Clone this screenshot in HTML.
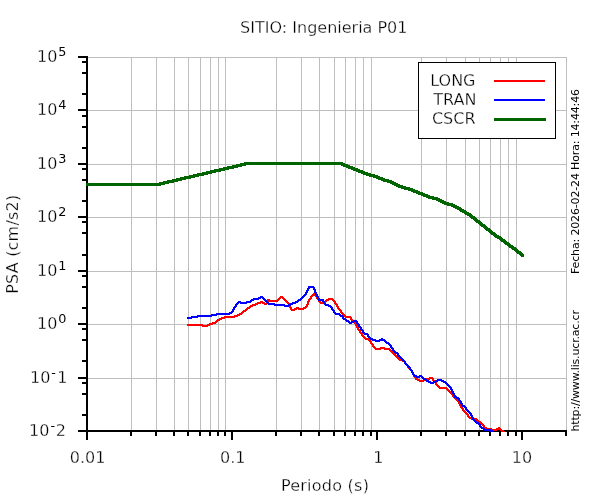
<!DOCTYPE html>
<html lang="es"><head><meta charset="utf-8"><title>SITIO: Ingenieria P01</title>
<style>html,body{margin:0;padding:0;background:#fff;}svg{display:block;}text{font-family:"DejaVu Sans","Liberation Sans",sans-serif;fill:#000;}.b text{stroke:#fff;stroke-width:0.3px;}</style></head><body>
<svg width="600" height="500" viewBox="0 0 600 500">
<rect width="600" height="500" fill="#fff"/>
<g stroke="#bebebe" stroke-width="1" shape-rendering="crispEdges" fill="none">
<line x1="87.0" y1="431.5" x2="566.5" y2="431.5"/>
<line x1="87.0" y1="378.5" x2="566.5" y2="378.5"/>
<line x1="87.0" y1="324.5" x2="566.5" y2="324.5"/>
<line x1="87.0" y1="271.5" x2="566.5" y2="271.5"/>
<line x1="87.0" y1="217.5" x2="566.5" y2="217.5"/>
<line x1="87.0" y1="164.5" x2="566.5" y2="164.5"/>
<line x1="87.0" y1="110.5" x2="566.5" y2="110.5"/>
<line x1="87.0" y1="57.5" x2="566.5" y2="57.5"/>
<line x1="131.5" y1="57.0" x2="131.5" y2="431.0"/>
<line x1="156.5" y1="57.0" x2="156.5" y2="431.0"/>
<line x1="174.5" y1="57.0" x2="174.5" y2="431.0"/>
<line x1="188.5" y1="57.0" x2="188.5" y2="431.0"/>
<line x1="200.5" y1="57.0" x2="200.5" y2="431.0"/>
<line x1="210.5" y1="57.0" x2="210.5" y2="431.0"/>
<line x1="218.5" y1="57.0" x2="218.5" y2="431.0"/>
<line x1="225.5" y1="57.0" x2="225.5" y2="431.0"/>
<line x1="276.5" y1="57.0" x2="276.5" y2="431.0"/>
<line x1="301.5" y1="57.0" x2="301.5" y2="431.0"/>
<line x1="319.5" y1="57.0" x2="319.5" y2="431.0"/>
<line x1="334.5" y1="57.0" x2="334.5" y2="431.0"/>
<line x1="345.5" y1="57.0" x2="345.5" y2="431.0"/>
<line x1="355.5" y1="57.0" x2="355.5" y2="431.0"/>
<line x1="363.5" y1="57.0" x2="363.5" y2="431.0"/>
<line x1="371.5" y1="57.0" x2="371.5" y2="431.0"/>
<line x1="421.5" y1="57.0" x2="421.5" y2="431.0"/>
<line x1="446.5" y1="57.0" x2="446.5" y2="431.0"/>
<line x1="465.5" y1="57.0" x2="465.5" y2="431.0"/>
<line x1="479.5" y1="57.0" x2="479.5" y2="431.0"/>
<line x1="490.5" y1="57.0" x2="490.5" y2="431.0"/>
<line x1="500.5" y1="57.0" x2="500.5" y2="431.0"/>
<line x1="508.5" y1="57.0" x2="508.5" y2="431.0"/>
<line x1="516.5" y1="57.0" x2="516.5" y2="431.0"/>
<line x1="566.5" y1="57.0" x2="566.5" y2="431.0"/>
<line x1="566.5" y1="57.0" x2="566.5" y2="431.0"/>
</g>
<g stroke="#000" stroke-width="2" shape-rendering="crispEdges" fill="none">
<line x1="87" y1="56" x2="87" y2="432"/>
<line x1="86" y1="431" x2="567" y2="431"/>
<line x1="78" y1="431" x2="87" y2="431"/>
<line x1="82" y1="415" x2="87" y2="415"/>
<line x1="82" y1="394" x2="87" y2="394"/>
<line x1="82" y1="383" x2="87" y2="383"/>
<line x1="78" y1="378" x2="87" y2="378"/>
<line x1="82" y1="361" x2="87" y2="361"/>
<line x1="82" y1="340" x2="87" y2="340"/>
<line x1="82" y1="329" x2="87" y2="329"/>
<line x1="78" y1="324" x2="87" y2="324"/>
<line x1="82" y1="308" x2="87" y2="308"/>
<line x1="82" y1="287" x2="87" y2="287"/>
<line x1="82" y1="276" x2="87" y2="276"/>
<line x1="78" y1="271" x2="87" y2="271"/>
<line x1="82" y1="255" x2="87" y2="255"/>
<line x1="82" y1="233" x2="87" y2="233"/>
<line x1="82" y1="222" x2="87" y2="222"/>
<line x1="78" y1="217" x2="87" y2="217"/>
<line x1="82" y1="201" x2="87" y2="201"/>
<line x1="82" y1="180" x2="87" y2="180"/>
<line x1="82" y1="169" x2="87" y2="169"/>
<line x1="78" y1="164" x2="87" y2="164"/>
<line x1="82" y1="148" x2="87" y2="148"/>
<line x1="82" y1="127" x2="87" y2="127"/>
<line x1="82" y1="116" x2="87" y2="116"/>
<line x1="78" y1="110" x2="87" y2="110"/>
<line x1="82" y1="94" x2="87" y2="94"/>
<line x1="82" y1="73" x2="87" y2="73"/>
<line x1="82" y1="62" x2="87" y2="62"/>
<line x1="78" y1="57" x2="87" y2="57"/>
<line x1="87" y1="431" x2="87" y2="440"/>
<line x1="232" y1="431" x2="232" y2="440"/>
<line x1="377" y1="431" x2="377" y2="440"/>
<line x1="522" y1="431" x2="522" y2="440"/>
<line x1="131" y1="431" x2="131" y2="436"/>
<line x1="156" y1="431" x2="156" y2="436"/>
<line x1="174" y1="431" x2="174" y2="436"/>
<line x1="188" y1="431" x2="188" y2="436"/>
<line x1="200" y1="431" x2="200" y2="436"/>
<line x1="210" y1="431" x2="210" y2="436"/>
<line x1="218" y1="431" x2="218" y2="436"/>
<line x1="225" y1="431" x2="225" y2="436"/>
<line x1="276" y1="431" x2="276" y2="436"/>
<line x1="301" y1="431" x2="301" y2="436"/>
<line x1="319" y1="431" x2="319" y2="436"/>
<line x1="334" y1="431" x2="334" y2="436"/>
<line x1="345" y1="431" x2="345" y2="436"/>
<line x1="355" y1="431" x2="355" y2="436"/>
<line x1="363" y1="431" x2="363" y2="436"/>
<line x1="371" y1="431" x2="371" y2="436"/>
<line x1="421" y1="431" x2="421" y2="436"/>
<line x1="446" y1="431" x2="446" y2="436"/>
<line x1="465" y1="431" x2="465" y2="436"/>
<line x1="479" y1="431" x2="479" y2="436"/>
<line x1="490" y1="431" x2="490" y2="436"/>
<line x1="500" y1="431" x2="500" y2="436"/>
<line x1="508" y1="431" x2="508" y2="436"/>
<line x1="516" y1="431" x2="516" y2="436"/>
<line x1="566" y1="431" x2="566" y2="436"/>
<line x1="566" y1="431" x2="566" y2="436"/>
</g>
<path d="M313 293h2v1h-2zM312 294h4v1h-4zM311 295h6v1h-6zM280 296h3v1h-3zM310 296h3v1h-3zM315 296h3v1h-3zM279 297h5v1h-5zM310 297h2v1h-2zM316 297h2v1h-2zM278 298h3v1h-3zM282 298h3v1h-3zM309 298h3v1h-3zM316 298h3v1h-3zM328 298h5v1h-5zM267 299h3v1h-3zM277 299h3v1h-3zM283 299h3v1h-3zM308 299h3v1h-3zM317 299h3v1h-3zM326 299h8v1h-8zM267 300h12v1h-12zM284 300h3v1h-3zM308 300h2v1h-2zM318 300h2v1h-2zM325 300h4v1h-4zM332 300h3v1h-3zM260 301h3v1h-3zM266 301h12v1h-12zM285 301h3v1h-3zM307 301h3v1h-3zM318 301h3v1h-3zM324 301h3v1h-3zM333 301h3v1h-3zM257 302h8v1h-8zM266 302h2v1h-2zM286 302h3v1h-3zM307 302h2v1h-2zM319 302h7v1h-7zM334 302h2v1h-2zM255 303h6v1h-6zM262 303h6v1h-6zM287 303h3v1h-3zM307 303h2v1h-2zM320 303h5v1h-5zM334 303h3v1h-3zM252 304h6v1h-6zM264 304h3v1h-3zM288 304h2v1h-2zM306 304h3v1h-3zM335 304h3v1h-3zM250 305h6v1h-6zM288 305h3v1h-3zM306 305h2v1h-2zM336 305h2v1h-2zM249 306h4v1h-4zM289 306h2v1h-2zM305 306h3v1h-3zM336 306h3v1h-3zM247 307h4v1h-4zM289 307h3v1h-3zM296 307h3v1h-3zM303 307h4v1h-4zM337 307h2v1h-2zM246 308h4v1h-4zM290 308h2v1h-2zM294 308h12v1h-12zM337 308h3v1h-3zM245 309h3v1h-3zM290 309h7v1h-7zM298 309h6v1h-6zM338 309h3v1h-3zM243 310h4v1h-4zM291 310h4v1h-4zM339 310h3v1h-3zM242 311h4v1h-4zM340 311h2v1h-2zM241 312h3v1h-3zM340 312h3v1h-3zM239 313h4v1h-4zM341 313h3v1h-3zM237 314h5v1h-5zM342 314h3v1h-3zM234 315h6v1h-6zM343 315h3v1h-3zM224 316h14v1h-14zM344 316h7v1h-7zM221 317h14v1h-14zM345 317h7v1h-7zM219 318h6v1h-6zM350 318h2v1h-2zM217 319h5v1h-5zM350 319h3v1h-3zM216 320h4v1h-4zM351 320h3v1h-3zM215 321h3v1h-3zM352 321h3v1h-3zM212 322h5v1h-5zM353 322h3v1h-3zM209 323h7v1h-7zM354 323h3v1h-3zM187 324h16v1h-16zM207 324h6v1h-6zM355 324h2v1h-2zM187 325h23v1h-23zM355 325h3v1h-3zM202 326h6v1h-6zM356 326h2v1h-2zM356 327h3v1h-3zM357 328h2v1h-2zM357 329h3v1h-3zM358 330h3v1h-3zM359 331h2v1h-2zM359 332h3v1h-3zM360 333h3v1h-3zM361 334h2v1h-2zM361 335h3v1h-3zM362 336h3v1h-3zM363 337h3v1h-3zM364 338h5v1h-5zM365 339h5v1h-5zM368 340h3v1h-3zM369 341h3v1h-3zM370 342h2v1h-2zM370 343h3v1h-3zM371 344h3v1h-3zM372 345h2v1h-2zM372 346h3v1h-3zM373 347h3v1h-3zM380 347h5v1h-5zM374 348h16v1h-16zM375 349h6v1h-6zM384 349h7v1h-7zM389 350h3v1h-3zM390 351h3v1h-3zM391 352h3v1h-3zM392 353h3v1h-3zM393 354h3v1h-3zM394 355h3v1h-3zM395 356h3v1h-3zM396 357h3v1h-3zM397 358h3v1h-3zM398 359h5v1h-5zM399 360h6v1h-6zM402 361h4v1h-4zM404 362h2v1h-2zM404 363h3v1h-3zM405 364h3v1h-3zM406 365h3v1h-3zM407 366h2v1h-2zM407 367h3v1h-3zM408 368h3v1h-3zM409 369h3v1h-3zM410 370h3v1h-3zM411 371h2v1h-2zM411 372h3v1h-3zM412 373h2v1h-2zM412 374h3v1h-3zM413 375h2v1h-2zM413 376h3v1h-3zM414 377h3v1h-3zM429 377h4v1h-4zM415 378h3v1h-3zM426 378h8v1h-8zM415 379h5v1h-5zM423 379h7v1h-7zM432 379h2v1h-2zM417 380h10v1h-10zM432 380h3v1h-3zM419 381h5v1h-5zM433 381h3v1h-3zM434 382h3v1h-3zM435 383h2v1h-2zM435 384h3v1h-3zM436 385h3v1h-3zM437 386h3v1h-3zM438 387h9v1h-9zM439 388h9v1h-9zM446 389h3v1h-3zM447 390h3v1h-3zM448 391h3v1h-3zM449 392h3v1h-3zM450 393h3v1h-3zM451 394h3v1h-3zM452 395h2v1h-2zM452 396h3v1h-3zM453 397h3v1h-3zM454 398h3v1h-3zM455 399h3v1h-3zM456 400h3v1h-3zM457 401h3v1h-3zM458 402h2v1h-2zM458 403h3v1h-3zM459 404h2v1h-2zM459 405h3v1h-3zM460 406h2v1h-2zM460 407h3v1h-3zM461 408h3v1h-3zM462 409h2v1h-2zM462 410h3v1h-3zM463 411h3v1h-3zM464 412h3v1h-3zM465 413h3v1h-3zM466 414h3v1h-3zM467 415h2v1h-2zM467 416h3v1h-3zM468 417h4v1h-4zM469 418h8v1h-8zM471 419h7v1h-7zM476 420h3v1h-3zM477 421h4v1h-4zM478 422h4v1h-4zM480 423h3v1h-3zM481 424h3v1h-3zM482 425h3v1h-3zM483 426h2v1h-2zM483 427h4v1h-4zM498 427h2v1h-2zM484 428h8v1h-8zM496 428h5v1h-5zM486 429h16v1h-16zM491 430h6v1h-6zM500 430h4v1h-4zM501 431h4v1h-4z" fill="#ff0000" shape-rendering="crispEdges"/>
<path d="M308 286h6v1h-6zM308 287h7v1h-7zM307 288h3v1h-3zM313 288h2v1h-2zM307 289h2v1h-2zM313 289h3v1h-3zM306 290h3v1h-3zM314 290h2v1h-2zM306 291h2v1h-2zM314 291h2v1h-2zM305 292h3v1h-3zM314 292h3v1h-3zM305 293h2v1h-2zM315 293h2v1h-2zM304 294h3v1h-3zM315 294h3v1h-3zM303 295h3v1h-3zM316 295h2v1h-2zM260 296h3v1h-3zM302 296h3v1h-3zM316 296h3v1h-3zM258 297h6v1h-6zM301 297h3v1h-3zM317 297h2v1h-2zM253 298h8v1h-8zM262 298h3v1h-3zM300 298h3v1h-3zM317 298h3v1h-3zM251 299h8v1h-8zM263 299h3v1h-3zM298 299h4v1h-4zM318 299h6v1h-6zM250 300h4v1h-4zM264 300h3v1h-3zM297 300h4v1h-4zM318 300h6v1h-6zM238 301h3v1h-3zM246 301h6v1h-6zM265 301h3v1h-3zM295 301h4v1h-4zM322 301h3v1h-3zM237 302h14v1h-14zM266 302h3v1h-3zM292 302h6v1h-6zM323 302h2v1h-2zM236 303h3v1h-3zM240 303h7v1h-7zM267 303h8v1h-8zM290 303h6v1h-6zM323 303h3v1h-3zM235 304h3v1h-3zM268 304h17v1h-17zM288 304h5v1h-5zM324 304h5v1h-5zM235 305h2v1h-2zM274 305h17v1h-17zM325 305h6v1h-6zM234 306h3v1h-3zM284 306h5v1h-5zM328 306h4v1h-4zM233 307h3v1h-3zM330 307h3v1h-3zM233 308h2v1h-2zM331 308h2v1h-2zM232 309h3v1h-3zM331 309h3v1h-3zM232 310h2v1h-2zM332 310h3v1h-3zM231 311h3v1h-3zM333 311h2v1h-2zM229 312h4v1h-4zM333 312h3v1h-3zM216 313h16v1h-16zM334 313h6v1h-6zM211 314h19v1h-19zM335 314h6v1h-6zM197 315h20v1h-20zM339 315h4v1h-4zM191 316h21v1h-21zM340 316h4v1h-4zM187 317h11v1h-11zM342 317h2v1h-2zM187 318h5v1h-5zM342 318h4v1h-4zM343 319h4v1h-4zM345 320h4v1h-4zM353 320h4v1h-4zM346 321h4v1h-4zM351 321h7v1h-7zM348 322h6v1h-6zM356 322h2v1h-2zM349 323h3v1h-3zM356 323h3v1h-3zM357 324h3v1h-3zM358 325h2v1h-2zM358 326h3v1h-3zM359 327h3v1h-3zM360 328h2v1h-2zM360 329h3v1h-3zM361 330h3v1h-3zM362 331h2v1h-2zM362 332h3v1h-3zM363 333h5v1h-5zM364 334h5v1h-5zM367 335h2v1h-2zM367 336h3v1h-3zM368 337h3v1h-3zM369 338h4v1h-4zM381 338h2v1h-2zM370 339h6v1h-6zM379 339h6v1h-6zM372 340h14v1h-14zM375 341h5v1h-5zM384 341h3v1h-3zM385 342h4v1h-4zM386 343h4v1h-4zM388 344h3v1h-3zM389 345h3v1h-3zM390 346h2v1h-2zM390 347h3v1h-3zM391 348h3v1h-3zM392 349h2v1h-2zM392 350h3v1h-3zM393 351h3v1h-3zM394 352h4v1h-4zM395 353h4v1h-4zM397 354h2v1h-2zM397 355h3v1h-3zM398 356h3v1h-3zM399 357h3v1h-3zM400 358h3v1h-3zM401 359h3v1h-3zM402 360h3v1h-3zM403 361h3v1h-3zM404 362h2v1h-2zM404 363h3v1h-3zM405 364h3v1h-3zM406 365h3v1h-3zM407 366h3v1h-3zM408 367h3v1h-3zM409 368h2v1h-2zM409 369h3v1h-3zM410 370h3v1h-3zM411 371h2v1h-2zM411 372h3v1h-3zM412 373h2v1h-2zM412 374h3v1h-3zM413 375h4v1h-4zM419 375h3v1h-3zM414 376h9v1h-9zM416 377h4v1h-4zM421 377h3v1h-3zM422 378h4v1h-4zM423 379h4v1h-4zM437 379h5v1h-5zM425 380h4v1h-4zM435 380h9v1h-9zM426 381h5v1h-5zM433 381h5v1h-5zM441 381h5v1h-5zM428 382h8v1h-8zM443 382h4v1h-4zM430 383h4v1h-4zM445 383h3v1h-3zM446 384h3v1h-3zM447 385h3v1h-3zM448 386h3v1h-3zM449 387h3v1h-3zM450 388h2v1h-2zM450 389h3v1h-3zM451 390h2v1h-2zM451 391h3v1h-3zM452 392h2v1h-2zM452 393h3v1h-3zM453 394h2v1h-2zM453 395h3v1h-3zM454 396h3v1h-3zM454 397h5v1h-5zM456 398h4v1h-4zM458 399h2v1h-2zM458 400h3v1h-3zM459 401h3v1h-3zM460 402h2v1h-2zM460 403h3v1h-3zM461 404h2v1h-2zM461 405h4v1h-4zM462 406h4v1h-4zM464 407h3v1h-3zM465 408h2v1h-2zM465 409h3v1h-3zM466 410h3v1h-3zM467 411h3v1h-3zM468 412h3v1h-3zM469 413h3v1h-3zM470 414h2v1h-2zM470 415h3v1h-3zM471 416h2v1h-2zM471 417h3v1h-3zM472 418h2v1h-2zM472 419h3v1h-3zM473 420h3v1h-3zM474 421h3v1h-3zM475 422h4v1h-4zM476 423h4v1h-4zM478 424h3v1h-3zM479 425h2v1h-2zM479 426h3v1h-3zM480 427h4v1h-4zM481 428h4v1h-4zM483 429h8v1h-8zM484 430h9v1h-9zM490 431h3v1h-3z" fill="#0000ff" shape-rendering="crispEdges"/>
<path d="M244 162h99v1h-99zM240 163h105v1h-105zM236 164h112v1h-112zM232 165h14v1h-14zM341 165h9v1h-9zM227 166h15v1h-15zM343 166h10v1h-10zM223 167h15v1h-15zM346 167h9v1h-9zM219 168h15v1h-15zM348 168h10v1h-10zM214 169h15v1h-15zM351 169h9v1h-9zM210 170h15v1h-15zM353 170h10v1h-10zM206 171h15v1h-15zM356 171h9v1h-9zM202 172h14v1h-14zM358 172h10v1h-10zM197 173h15v1h-15zM361 173h10v1h-10zM193 174h15v1h-15zM363 174h12v1h-12zM189 175h15v1h-15zM366 175h12v1h-12zM184 176h15v1h-15zM369 176h11v1h-11zM180 177h15v1h-15zM373 177h10v1h-10zM176 178h15v1h-15zM376 178h9v1h-9zM172 179h14v1h-14zM378 179h11v1h-11zM167 180h15v1h-15zM381 180h11v1h-11zM163 181h15v1h-15zM383 181h11v1h-11zM159 182h15v1h-15zM387 182h9v1h-9zM86 183h83v1h-83zM390 183h8v1h-8zM86 184h79v1h-79zM392 184h8v1h-8zM86 185h75v1h-75zM394 185h9v1h-9zM396 186h10v1h-10zM398 187h12v1h-12zM401 188h12v1h-12zM404 189h11v1h-11zM408 190h10v1h-10zM411 191h9v1h-9zM413 192h10v1h-10zM416 193h9v1h-9zM418 194h10v1h-10zM421 195h9v1h-9zM423 196h11v1h-11zM426 197h12v1h-12zM428 198h12v1h-12zM432 199h10v1h-10zM436 200h8v1h-8zM438 201h8v1h-8zM440 202h9v1h-9zM442 203h11v1h-11zM444 204h11v1h-11zM447 205h10v1h-10zM451 206h8v1h-8zM453 207h8v1h-8zM455 208h7v1h-7zM457 209h7v1h-7zM459 210h7v1h-7zM460 211h7v1h-7zM462 212h7v1h-7zM464 213h7v1h-7zM465 214h7v1h-7zM467 215h6v1h-6zM469 216h6v1h-6zM470 217h6v1h-6zM471 218h6v1h-6zM473 219h5v1h-5zM474 220h6v1h-6zM475 221h6v1h-6zM476 222h6v1h-6zM478 223h5v1h-5zM479 224h6v1h-6zM480 225h6v1h-6zM481 226h6v1h-6zM483 227h5v1h-5zM484 228h6v1h-6zM485 229h6v1h-6zM486 230h6v1h-6zM488 231h5v1h-5zM489 232h6v1h-6zM490 233h6v1h-6zM491 234h6v1h-6zM493 235h6v1h-6zM494 236h7v1h-7zM495 237h7v1h-7zM497 238h6v1h-6zM499 239h6v1h-6zM500 240h6v1h-6zM501 241h6v1h-6zM503 242h6v1h-6zM504 243h6v1h-6zM505 244h6v1h-6zM507 245h6v1h-6zM508 246h6v1h-6zM509 247h7v1h-7zM511 248h6v1h-6zM512 249h6v1h-6zM514 250h5v1h-5zM515 251h6v1h-6zM516 252h6v1h-6zM517 253h6v1h-6zM519 254h5v1h-5zM520 255h4v1h-4zM521 256h3v1h-3z" fill="#006400" shape-rendering="crispEdges"/>
<rect x="418.5" y="62.5" width="137" height="76" fill="#fff" stroke="#000" stroke-width="1" shape-rendering="crispEdges"/>
<g shape-rendering="crispEdges" fill="none">
<line x1="494" y1="81" x2="545" y2="81" stroke="#ff0000" stroke-width="2"/>
<line x1="494" y1="100" x2="545" y2="100" stroke="#0000ff" stroke-width="2"/>
<line x1="494" y1="119.5" x2="546" y2="119.5" stroke="#006400" stroke-width="3"/>
</g>
<g class="b" font-size="16" text-anchor="end">
<text x="475.5" y="86">LONG</text>
<text x="476.5" y="105">TRAN</text>
<text x="475.5" y="124">CSCR</text>
</g>
<g class="b" font-size="16">
<text x="29" y="435.9">10<tspan font-size="12.8" x="50.4" dy="-6" style="stroke:none">-</tspan><tspan x="55.8" dy="6">2</tspan></text>
<text x="30" y="382.9">10<tspan font-size="12.8" x="51.2" dy="-6" style="stroke:none">-</tspan><tspan x="57.2" dy="6">1</tspan></text>
<text x="37" y="328.9">10<tspan font-size="12.8" x="58.2" dy="-6" style="stroke:none">0</tspan></text>
<text x="37" y="275.9">10<tspan font-size="12.8" x="58.2" dy="-6" style="stroke:none">1</tspan></text>
<text x="37" y="221.9">10<tspan font-size="12.8" x="58.2" dy="-6" style="stroke:none">2</tspan></text>
<text x="37" y="168.9">10<tspan font-size="12.8" x="58.2" dy="-6" style="stroke:none">3</tspan></text>
<text x="37" y="114.9">10<tspan font-size="12.8" x="58.2" dy="-6" style="stroke:none">4</tspan></text>
<text x="37" y="61.9">10<tspan font-size="12.8" x="58.2" dy="-6" style="stroke:none">5</tspan></text>
<text x="87.6" y="463" text-anchor="middle">0.01</text>
<text x="232.8" y="463" text-anchor="middle">0.1</text>
<text x="378.4" y="463" text-anchor="middle">1</text>
<text x="522" y="463" text-anchor="middle">10</text>
<text x="323.8" y="33" text-anchor="middle">SITIO: Ingenieria P01</text>
<text x="280.9" y="491" textLength="88" lengthAdjust="spacing">Periodo (s)</text>
<text transform="translate(18.4,293.8) rotate(-90)" textLength="99" lengthAdjust="spacing">PSA (cm/s2)</text>
</g>
<g font-size="11">
<text transform="translate(579,274) rotate(-90)" textLength="185" lengthAdjust="spacing">Fecha: 2026-02-24 Hora: 14:44:46</text>
<text transform="translate(579,431.5) rotate(-90)" textLength="121.5" lengthAdjust="spacing">http://www.lis.ucr.ac.cr</text>
</g>
</svg></body></html>
